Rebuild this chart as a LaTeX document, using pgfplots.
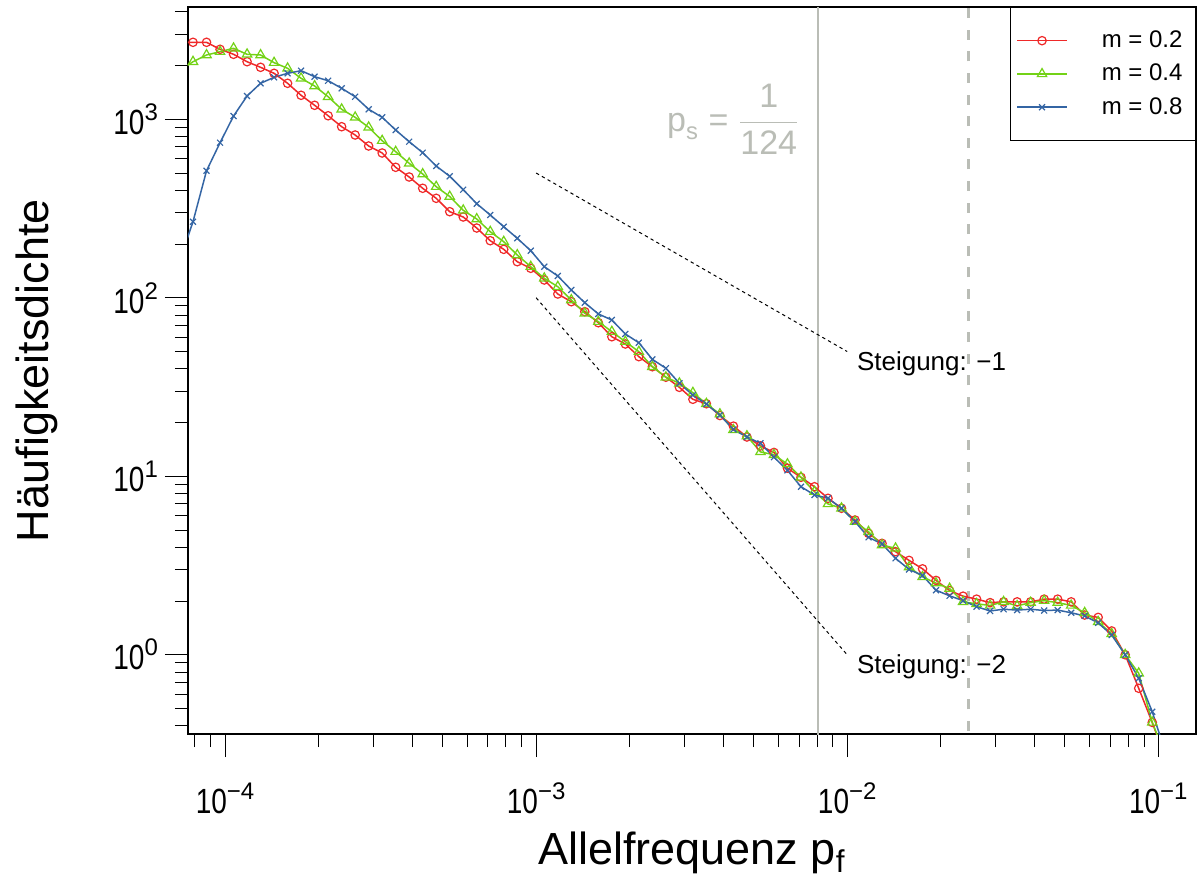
\documentclass[border=0pt]{standalone}
\usepackage{fontspec}
\setmainfont{Liberation Sans}
\usepackage{amsmath}
\usepackage{graphicx}
\usepackage{pgfplots}
\usepackage{pgfplotstable}
\pgfplotsset{compat=1.18}

\definecolor{cred}{HTML}{EF2929}
\definecolor{cgreen}{HTML}{73D216}
\definecolor{cblue}{HTML}{3465A4}
\definecolor{alu}{HTML}{BABDB6}

% tick labels: narrow "10" with a fairly large exponent
\newcommand{\tl}[1]{\scalebox{0.8}[1]{10}\raisebox{7pt}{\fontsize{12}{14}\selectfont #1}}

% x: allele frequency, r/g/b: m = 0.2 / 0.4 / 0.8
\pgfplotstableread{
x          r      g      b
7.138e-5   2700   1865   160
7.889e-5   2700   2102   266.9
8.719e-5   2700   2292   515.2
9.636e-5   2467   2392   739.6
1.0649e-4  2313   2499   1043
1.1769e-4  2102   2313   1351
1.3007e-4  1956   2292   1591
1.4375e-4  1810   2076   1719
1.5887e-4  1591   1931   1810
1.7557e-4  1363   1697   1872
1.9404e-4  1198   1537   1733
2.1445e-4  1047   1338   1645
2.3701e-4  908.9  1138   1492
2.6193e-4  816.6  1026   1338
2.8947e-4  708.8  902.0  1138
3.1992e-4  647.5  759.0  1026
3.5357e-4  538.4  658.5  871.1
3.9075e-4  475.1  567.0  749.2
4.3185e-4  410.7  493.8  650.0
4.7725e-4  360.9  419.3  547.5
5.2746e-4  303.7  369.4  479.4
5.8292e-4  283.6  309.2  403.4
6.4425e-4  246.0  276.4  336.7
7.1201e-4  208.9  234.6  291.0
7.8686e-4  186.9  206.2  250.2
8.6962e-4  159.3  173.7  215.4
9.6109e-4  146.3  149.4  183.6
1.06218e-3 125.8  128.6  149.4
1.17390e-3 105.0  115.4  132.5
1.29729e-3 95.1   97.2   110.6
1.43377e-3 83.6   81.9   93.9
1.58455e-3 72.5   73.5   81.2
1.75126e-3 60.5   64.6   75.1
1.93544e-3 55.1   56.8   62.7
2.13891e-3 46.8   49.9   56.0
2.36387e-3 41.1   41.1   45.2
2.61251e-3 35.9   35.9   40.3
2.88730e-3 31.5   33.2   33.2
3.19099e-3 27.0   29.4   28.5
3.52640e-3 25.5   25.5   25.4
3.89739e-3 21.9   22.3   22.0
4.30726e-3 19.1   18.2   18.3
4.76042e-3 16.6   16.8   16.6
5.26107e-3 14.8   13.7   15.3
5.81416e-3 13.6   13.2   12.8
6.42566e-3 11.1   11.7   10.8
7.10153e-3 9.87   9.87   8.74
7.84849e-3 8.74   8.20   7.86
8.67401e-3 7.53   7.00   7.53
9.58571e-3 6.62   6.62   6.62
1.05942e-2 5.69   5.57   5.57
1.17083e-2 4.79   4.89   4.55
1.29401e-2 4.21   4.12   4.18
1.43011e-2 3.78   3.95   3.47
1.58045e-2 3.38   3.10   3.01
1.74668e-2 3.03   2.73   2.78
1.93039e-2 2.61   2.52   2.30
2.13344e-2 2.29   2.35   2.14
2.35784e-2 2.13   1.98   2.01
2.60566e-2 2.05   1.93   1.86
2.87980e-2 1.96   1.89   1.76
3.18265e-2 1.98   1.98   1.80
3.51748e-2 1.98   1.88   1.78
3.88744e-2 1.98   1.96   1.80
4.29611e-2 2.05   2.01   1.77
4.74798e-2 2.05   1.96   1.78
5.24734e-2 1.98   1.89   1.72
5.79929e-2 1.67   1.72   1.65
6.40927e-2 1.62   1.53   1.51
7.08291e-2 1.36   1.31   1.29
7.82810e-2 1.00   1.00   1.00
8.65131e-2 0.649  0.788  0.739
9.56150e-2 0.418  0.418  0.480
0.105672   0.26   0.27   0.28
}\spec

\begin{document}
\begin{tikzpicture}
\path[use as bounding box] (-94pt,-73pt) rectangle (507.5pt,367pt);
\begin{axis}[
  at={(0pt,0pt)}, anchor=south west,
  scale only axis, width=504pt, height=363.35pt,
  xmode=log, ymode=log,
  xmin=7.60e-5, xmax=0.1322, ymin=0.3599, ymax=4241,
  axis line style={line width=1pt},
  tick align=outside, xtick pos=bottom, ytick pos=left,
  major tick length=11.5pt, minor tick length=6.5pt,
  tick style={black, line width=0.5pt},
  xtick={1e-4,1e-3,1e-2,1e-1},
  xticklabels={\tl{−4},\tl{−3},\tl{−2},\tl{−1}},
  minor xtick={8e-5,9e-5,2e-4,3e-4,4e-4,5e-4,6e-4,7e-4,8e-4,9e-4,
    2e-3,3e-3,4e-3,5e-3,6e-3,7e-3,8e-3,9e-3,
    0.02,0.03,0.04,0.05,0.06,0.07,0.08,0.09},
  ytick={1,10,100,1000},
  yticklabels={\tl{0},\tl{1},\tl{2},\tl{3}},
  minor ytick={0.4,0.5,0.6,0.7,0.8,0.9,2,3,4,5,6,7,8,9,
    20,30,40,50,60,70,80,90,200,300,400,500,600,700,800,900,2000,3000,4000},
  ticklabel style={font=\fontsize{17.5}{20}\selectfont},
  xticklabel style={anchor=base, yshift=-28pt},
  yticklabel style={anchor=east},
  label style={font=\fontsize{22.5}{27}\selectfont, inner sep=0pt},
  xlabel={Allelfrequenz p\textsubscript{f}},
  xlabel style={at={(axis description cs:0.5,-0.1790)}, anchor=base},
  ylabel={Häufigkeitsdichte},
  ylabel style={at={(axis description cs:-0.1386,0.5)}, anchor=base},
  legend style={at={(1,1)}, anchor=north east, draw=black, line width=0.5pt,
    font=\fontsize{12}{14}\selectfont, inner xsep=3pt, inner ysep=9.5pt,
    row sep=2.75pt, cells={anchor=west},
    /tikz/every odd column/.append style={column sep=15pt}},
  legend image code/.code={\draw[mark repeat=2,mark phase=2,#1]
    plot coordinates {(0pt,0pt) (12.5pt,0pt) (25pt,0pt)};},
]
\addplot[alu, line width=0.8pt, forget plot] coordinates {(0.0080645,0.01) (0.0080645,1e5)};
\addplot[alu, line width=1.35pt, dash pattern=on 5pt off 5.8pt, forget plot]
  coordinates {(0.0246,0.01) (0.0246,1e5)};
\addplot[black, line width=0.5pt, dash pattern=on 1.65pt off 1.65pt, forget plot]
  coordinates {(1e-3,500) (1e-2,50)};
\addplot[black, line width=0.5pt, dash pattern=on 1.65pt off 1.65pt, forget plot]
  coordinates {(1e-3,100) (1e-2,1)};

\addplot[cred, line width=0.75pt, mark=o, mark size=2.1pt, mark options={line width=0.6pt}]
  table[x=x,y=r]{\spec};
\addlegendentry{m = 0.2\hspace*{1.5pt}}
\addplot[cgreen, line width=0.75pt, mark=triangle, mark size=2.7pt, mark options={line width=0.6pt}]
  table[x=x,y=g]{\spec};
\addlegendentry{m = 0.4\hspace*{1.5pt}}
\addplot[cblue, line width=0.75pt, mark=x, mark size=2.1pt, mark options={line width=0.6pt}]
  table[x=x,y=b]{\spec};
\addlegendentry{m = 0.8\hspace*{1.5pt}}

\node[anchor=base west, inner sep=0pt, font=\fontsize{13}{15}\selectfont]
  at (axis cs:0.01072,39.4) {Steigung: −1};
\node[anchor=base west, inner sep=0pt, font=\fontsize{13}{15}\selectfont]
  at (axis cs:0.01072,0.786) {Steigung: −2};
\node[anchor=base east, inner sep=0pt, text=alu, font=\fontsize{17}{20}\selectfont]
  at (axis cs:0.007046,857) {$\text{p}_{\text{s}} \mathrel{\text{=}} \dfrac{\text{1}}{\text{124}}$};
\end{axis}
\end{tikzpicture}
\end{document}
